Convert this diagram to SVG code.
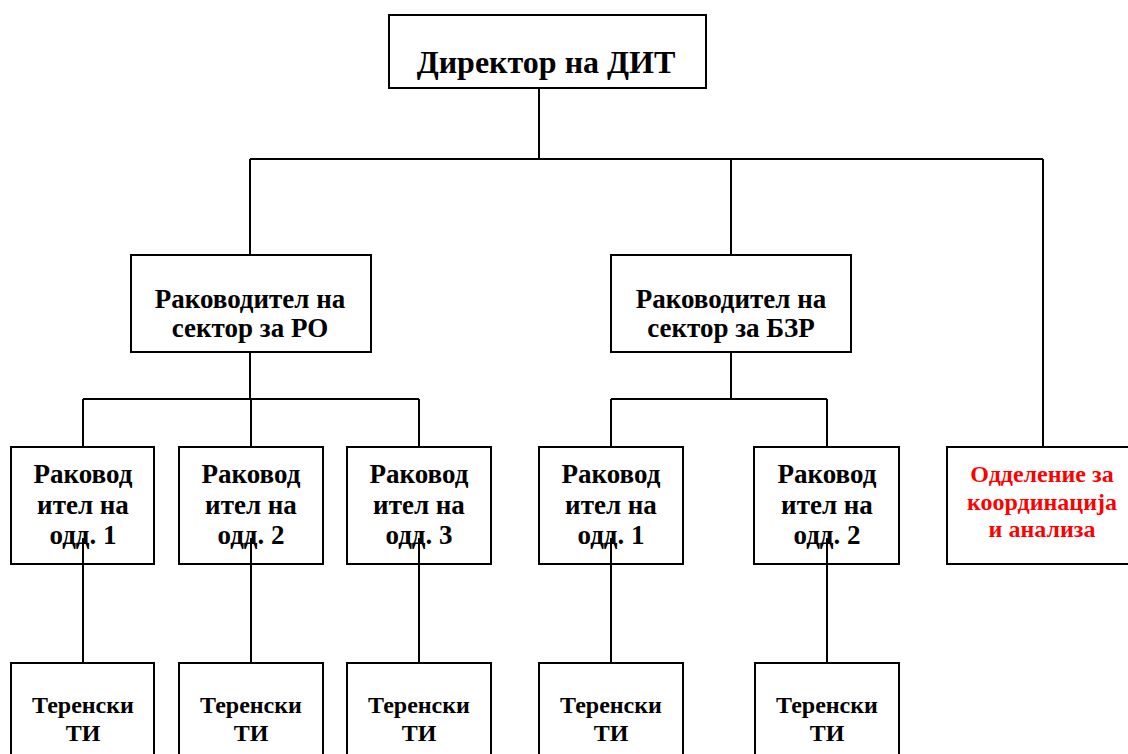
<svg xmlns="http://www.w3.org/2000/svg" width="1128" height="754" viewBox="0 0 1128 754">
<style>
.box{fill:#fff;stroke:#000;stroke-width:2}
.t{font-family:"Liberation Serif","Times New Roman",serif;font-weight:bold;text-anchor:middle;fill:#000}
.red{fill:#ff0000}
.c{fill:none;stroke:#000;stroke-width:2}
</style>
<rect width="1128" height="754" fill="#fff"/>
<g id="director">
<rect class="box" x="389" y="15" width="317" height="73"/>
<text class="t" x="546" y="73" font-size="32">Директор на ДИТ</text>
</g>
<g id="sector-ro">
<rect class="box" x="131" y="255" width="240" height="97"/>
<text class="t" x="250" y="308" font-size="27">Раководител на</text>
<text class="t" x="250" y="337" font-size="27">сектор за РО</text>
</g>
<g id="sector-bzr">
<rect class="box" x="611" y="255" width="240" height="97"/>
<text class="t" x="731" y="308" font-size="27">Раководител на</text>
<text class="t" x="731" y="337" font-size="27">сектор за БЗР</text>
</g>
<g id="ro-odd1">
<rect class="box" x="11" y="447" width="143" height="117"/>
<text class="t" x="83" y="483" font-size="27">Раковод</text>
<text class="t" x="83" y="514" font-size="27">ител на</text>
<text class="t" x="83" y="544" font-size="27">одд. 1</text>
</g>
<g id="ro-odd2">
<rect class="box" x="179" y="447" width="144" height="117"/>
<text class="t" x="251" y="483" font-size="27">Раковод</text>
<text class="t" x="251" y="514" font-size="27">ител на</text>
<text class="t" x="251" y="544" font-size="27">одд. 2</text>
</g>
<g id="ro-odd3">
<rect class="box" x="347" y="447" width="144" height="117"/>
<text class="t" x="419" y="483" font-size="27">Раковод</text>
<text class="t" x="419" y="514" font-size="27">ител на</text>
<text class="t" x="419" y="544" font-size="27">одд. 3</text>
</g>
<g id="bzr-odd1">
<rect class="box" x="539" y="447" width="144" height="117"/>
<text class="t" x="611" y="483" font-size="27">Раковод</text>
<text class="t" x="611" y="514" font-size="27">ител на</text>
<text class="t" x="611" y="544" font-size="27">одд. 1</text>
</g>
<g id="bzr-odd2">
<rect class="box" x="754" y="447" width="145" height="117"/>
<text class="t" x="827" y="483" font-size="27">Раковод</text>
<text class="t" x="827" y="514" font-size="27">ител на</text>
<text class="t" x="827" y="544" font-size="27">одд. 2</text>
</g>
<g id="coord">
<rect class="box" x="947" y="447" width="192" height="117"/>
<text class="t red" x="1042" y="482" font-size="24">Одделение за</text>
<text class="t red" x="1042" y="510" font-size="24">координација</text>
<text class="t red" x="1042" y="537" font-size="24">и анализа</text>
</g>
<g id="ro-ti1">
<rect class="box" x="11" y="663" width="143" height="100"/>
<text class="t" x="83" y="713" font-size="24">Теренски</text>
<text class="t" x="83" y="741" font-size="24">ТИ</text>
</g>
<g id="ro-ti2">
<rect class="box" x="179" y="663" width="144" height="100"/>
<text class="t" x="251" y="713" font-size="24">Теренски</text>
<text class="t" x="251" y="741" font-size="24">ТИ</text>
</g>
<g id="ro-ti3">
<rect class="box" x="347" y="663" width="144" height="100"/>
<text class="t" x="419" y="713" font-size="24">Теренски</text>
<text class="t" x="419" y="741" font-size="24">ТИ</text>
</g>
<g id="bzr-ti1">
<rect class="box" x="539" y="663" width="144" height="100"/>
<text class="t" x="611" y="713" font-size="24">Теренски</text>
<text class="t" x="611" y="741" font-size="24">ТИ</text>
</g>
<g id="bzr-ti2">
<rect class="box" x="755" y="663" width="144" height="100"/>
<text class="t" x="827" y="713" font-size="24">Теренски</text>
<text class="t" x="827" y="741" font-size="24">ТИ</text>
</g>
<g id="connectors">
<path class="c" d="M539,88 V159 M250,159 H1043 M250,159 V255 M731,159 V255 M1043,159 V447"/>
<path class="c" d="M250,352 V399 M83,399 H419 M83,399 V447 M251,399 V447 M419,399 V447"/>
<path class="c" d="M731,352 V399 M611,399 H827 M611,399 V447 M827,399 V447"/>
<path class="c" d="M83,538 V663 M251,538 V663 M419,538 V663 M611,538 V663 M827,538 V663"/>
</g>
</svg>
